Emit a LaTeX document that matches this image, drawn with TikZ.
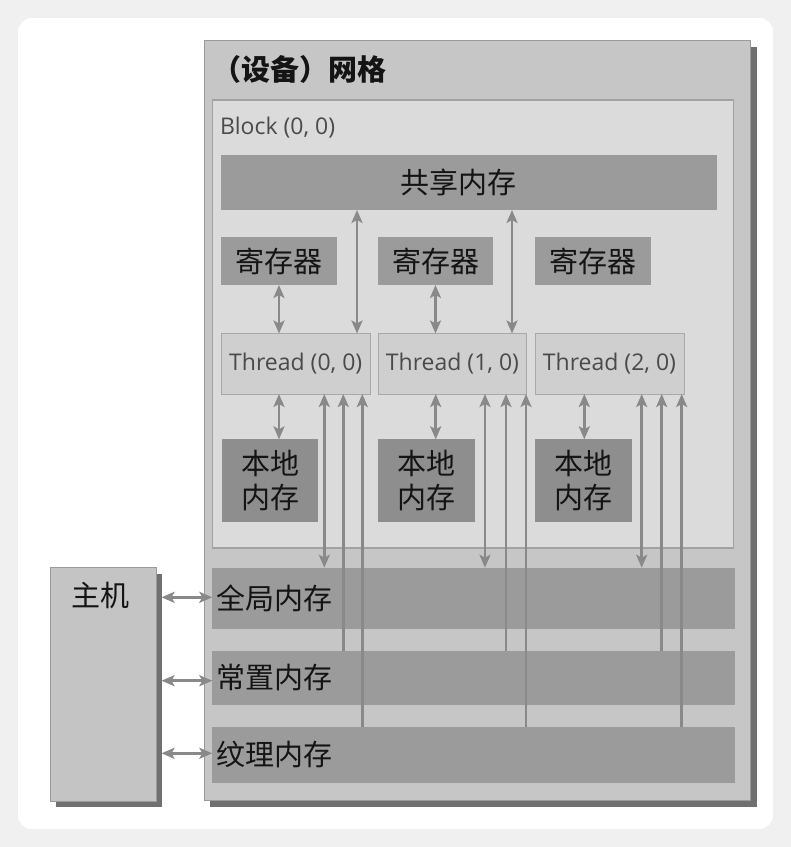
\documentclass[tikz,border=0pt]{standalone}
\usepackage{fontspec}
\setmainfont{Open Sans}
\newfontfamily\cjk{Noto Sans CJK SC}
\usetikzlibrary{arrows.meta}
\definecolor{bgc}{HTML}{F0F0F0}
\definecolor{gridc}{HTML}{C6C6C6}
\definecolor{gridb}{HTML}{9A9A9A}
\definecolor{shadc}{HTML}{707070}
\definecolor{blockc}{HTML}{DBDBDB}
\definecolor{blockb}{HTML}{A2A2A2}
\definecolor{memc}{HTML}{9B9B9B}
\definecolor{locc}{HTML}{8E8E8E}
\definecolor{thrc}{HTML}{CFCFCF}
\definecolor{thrb}{HTML}{A9A9A9}
\definecolor{arrc}{HTML}{898989}
\definecolor{hostc}{HTML}{C4C4C4}
\definecolor{cjktext}{HTML}{141414}
\definecolor{lattext}{HTML}{4A4A4A}
\begin{document}
\begin{tikzpicture}[x=1pt,y=-1pt,
  every node/.style={inner sep=0pt, outer sep=0pt},
  cjkfont/.style={font=\cjk\fontsize{29}{34}\selectfont, text=cjktext},
  gridbox/.style={draw=gridb, fill=gridc, line width=1pt, anchor=north west},
  blockbox/.style={draw=blockb, fill=blockc, line width=1.2pt, anchor=north west},
  membox/.style={fill=memc, anchor=north west, cjkfont},
  locbox/.style={fill=locc, anchor=north west, cjkfont, align=center},
  thrbox/.style={fill=thrc, draw=thrb, line width=1pt, anchor=north west,
     font=\fontsize{23}{28}\selectfont, text=lattext},
  hostbox/.style={draw=gridb, fill=hostc, line width=1pt, anchor=north west},
  tipA/.tip={Stealth[length=13pt,width=11pt,inset=3pt]},
  dbl/.style={draw=arrc, line width=2.5pt, tipA-tipA},
  upl/.style={draw=arrc, line width=2.5pt, tipA-},
  barlbl/.style={anchor=west, xshift=4pt, cjkfont}
]
\useasboundingbox (0,0) rectangle (791,847);
\fill[bgc] (0,0) rectangle (791,847);
\fill[white, rounded corners=14pt] (18,18) rectangle (773,829);

% shadows
\fill[shadc] (210,46.5) rectangle (756.5,806.5);
\fill[shadc] (56,573.5) rectangle (161.7,806.7);

% grid
\node[gridbox, minimum width=546pt, minimum height=760pt] (grid) at (204,40) {};
\node[anchor=west, font=\cjk\bfseries\fontsize{29}{34}\selectfont, text=cjktext] (title) at (212,69) {（设备）网格};

% block
\node[blockbox, minimum width=521pt, minimum height=448pt] (block) at (212.5,100) {};
\node[anchor=west, font=\fontsize{23}{28}\selectfont, text=lattext] (blocklbl) at (220,128) {Block (0, 0)};

% shared memory
\node[membox, minimum width=495.5pt, minimum height=55.5pt,
  label={[cjkfont, xshift=-10pt]center:共享内存}] (shared) at (221,154.5) {};

% registers
\node[membox, minimum width=116pt, minimum height=48pt] (reg1) at (221,237) {寄存器};
\node[membox, minimum width=115.6pt, minimum height=48pt] (reg2) at (377.7,237) {寄存器};
\node[membox, minimum width=116.2pt, minimum height=48pt] (reg3) at (534.5,237) {寄存器};

% threads
\node[thrbox, minimum width=148.5pt, minimum height=60.5pt] (thr1) at (221.5,333.5) {Thread (0, 0)};
\node[thrbox, minimum width=148.4pt, minimum height=60.5pt] (thr2) at (378.3,333.5) {Thread (1, 0)};
\node[thrbox, minimum width=149pt, minimum height=60.5pt] (thr3) at (535,333.5) {Thread (2, 0)};

% local memory
\node[locbox, minimum width=96.6pt, minimum height=83pt] (loc1) at (221.7,439.3) {本地\\内存};
\node[locbox, minimum width=96.7pt, minimum height=83pt] (loc2) at (378.3,439.3) {本地\\内存};
\node[locbox, minimum width=97.3pt, minimum height=83pt] (loc3) at (535,439.3) {本地\\内存};

% global / constant / texture
\node[membox, minimum width=522.7pt, minimum height=61.3pt, label={[barlbl]west:全局内存}] (glob) at (212.3,567.7) {};
\node[membox, minimum width=522.7pt, minimum height=54.5pt, label={[barlbl]west:常置内存}] (const) at (212.3,650.5) {};
\node[membox, minimum width=522.7pt, minimum height=56.2pt, label={[barlbl]west:纹理内存}] (tex) at (212.3,726.5) {};

% host
\node[hostbox, minimum width=106pt, minimum height=233.3pt] (host) at (50,567.7) {};
\node[cjkfont] (hostlbl) at (100,595) {主机};

% x positions of connectors
\coordinate (s1) at (357,0);   \coordinate (s2) at (512,0);
\coordinate (r1) at (279,0);   \coordinate (r2) at (435.5,0);
\coordinate (l1) at (279,0);   \coordinate (l2) at (435.7,0); \coordinate (l3) at (584.3,0);
\coordinate (g1) at (324.3,0); \coordinate (g2) at (485,0);   \coordinate (g3) at (641.7,0);
\coordinate (k1) at (343.3,0); \coordinate (k2) at (506,0);   \coordinate (k3) at (661.7,0);
\coordinate (t1) at (362.3,0); \coordinate (t2) at (526,0);   \coordinate (t3) at (681.7,0);
\coordinate (h1) at (0,597.3); \coordinate (h2) at (0,680.7); \coordinate (h3) at (0,753.3);

% shared <-> threads
\draw[dbl] (s1 |- thr1.north) -- (s1 |- shared.south);
\draw[dbl] (s2 |- thr2.north) -- (s2 |- shared.south);
% registers <-> threads
\draw[dbl] (r1 |- reg1.south) -- (r1 |- thr1.north);
\draw[dbl] (r2 |- reg2.south) -- (r2 |- thr2.north);
% threads <-> local
\draw[dbl] (l1 |- thr1.south) -- (l1 |- loc1.north);
\draw[dbl] (l2 |- thr2.south) -- (l2 |- loc2.north);
\draw[dbl] (l3 |- thr3.south) -- (l3 |- loc3.north);
% threads <-> global
\draw[dbl] (g1 |- thr1.south) -- (g1 |- glob.north);
\draw[dbl] (g2 |- thr2.south) -- (g2 |- glob.north);
\draw[dbl] (g3 |- thr3.south) -- (g3 |- glob.north);
% threads <- constant
\draw[upl] (k1 |- thr1.south) -- (k1 |- const.north);
\draw[upl] (k2 |- thr2.south) -- (k2 |- const.north);
\draw[upl] (k3 |- thr3.south) -- (k3 |- const.north);
% threads <- texture
\draw[upl] (t1 |- thr1.south) -- (t1 |- tex.north);
\draw[upl] (t2 |- thr2.south) -- (t2 |- tex.north);
\draw[upl] (t3 |- thr3.south) -- (t3 |- tex.north);
% host <-> memories
\draw[dbl] ([xshift=5.5pt]host.east |- h1) -- (glob.west |- h1);
\draw[dbl] ([xshift=5.5pt]host.east |- h2) -- (const.west |- h2);
\draw[dbl] ([xshift=5.5pt]host.east |- h3) -- (tex.west |- h3);
\end{tikzpicture}
\end{document}
